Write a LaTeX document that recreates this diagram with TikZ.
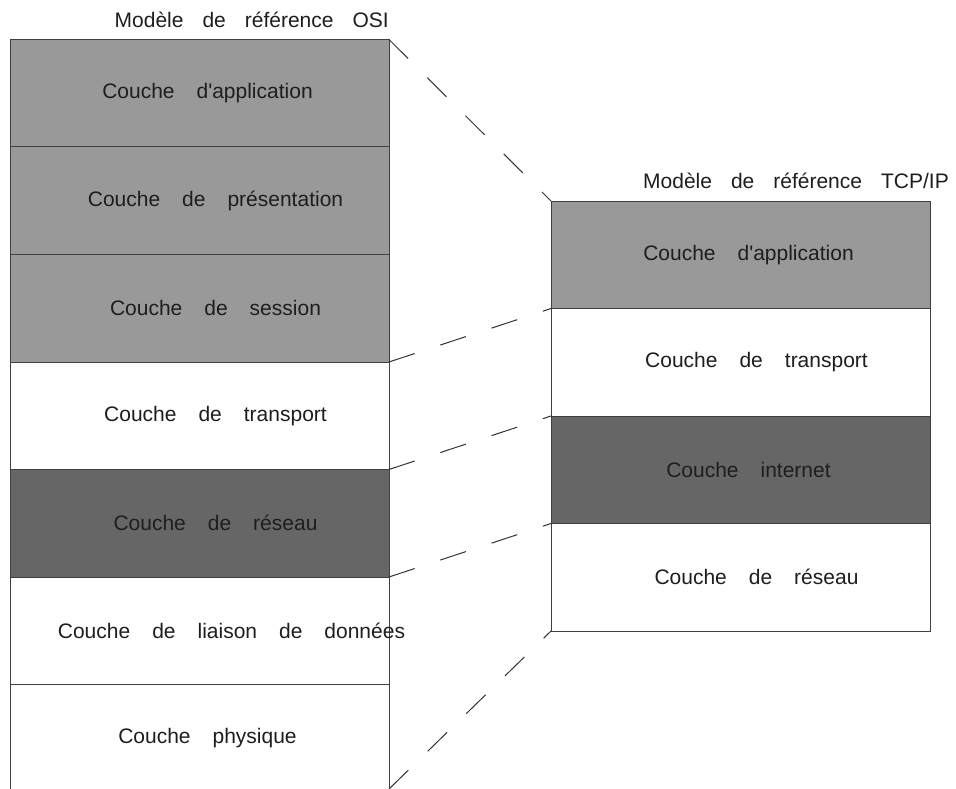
\documentclass[tikz,border=0pt]{standalone}
\usepackage{fontspec}
\setmainfont{Liberation Sans}
\usetikzlibrary{positioning}

\definecolor{layerlight}{HTML}{999999}
\definecolor{layerdark}{HTML}{666666}
\definecolor{edgegray}{HTML}{404040}
\definecolor{textgray}{HTML}{1E1E1E}

\newlength\gapshift
\setlength\gapshift{16pt}
\newcommand\layerfont{\fontsize{21}{25}\selectfont\spaceskip=22pt plus 0pt\relax}
\newcommand\titlefont{\fontsize{21}{25}\selectfont\spaceskip=19pt plus 0pt\relax}

\tikzset{
  layer/.style={draw=edgegray, line width=1pt, outer sep=0pt, inner sep=0pt,
    minimum width=379pt, minimum height=107.5pt, font=\layerfont, text=textgray,
    execute at begin node={\hspace*{#1\gapshift}}},
  layer/.default=1,
  modeltitle/.style={inner sep=0pt, font=\titlefont, text=textgray},
  link/.style={draw=black!80, line width=1pt, dash pattern=on 27pt off 27pt}
}

\begin{document}
\begin{tikzpicture}[x=1pt,y=-1pt]
\useasboundingbox (0,0) rectangle (956,789);
\clip (0,0) rectangle (956,789);

% OSI
\node[layer, fill=layerlight] (osiapp) at (199.5,93.25) {Couche d\textquotesingle application};
\node[layer=2, fill=layerlight, below=0pt of osiapp] (osipres) {Couche de présentation};
\node[layer=2, fill=layerlight, below=0pt of osipres] (osisess) {Couche de session};
\node[layer=2, fill=white, below=0pt of osisess] (ositrans) {Couche de transport};
\node[layer=2, fill=layerdark, below=0pt of ositrans] (osinet) {Couche de réseau};
% texte plus large que la case
\node[layer=0, fill=white, below=0pt of osinet] (osilink) {\makebox[0pt]{\hspace*{4\gapshift}Couche de liaison de données}};
\node[layer, fill=white, below=0pt of osilink] (osiphys) {Couche physique};
\node[modeltitle, anchor=base east] (osititle) at ([yshift=12pt]osiapp.north east) {Modèle de référence OSI};

% TCP/IP
\node[layer, fill=layerlight] (tcpapp) at (740.5,254.75) {Couche d\textquotesingle application};
\node[layer=2, fill=white, below=0pt of tcpapp] (tcptrans) {Couche de transport};
\node[layer, fill=layerdark, below=0pt of tcptrans] (tcpinet) {Couche internet};
\node[layer=2, fill=white, below=0pt of tcpinet] (tcpnet) {Couche de réseau};
\node[modeltitle, anchor=base east] (tcptitle) at ([xshift=19pt,yshift=13pt]tcpapp.north east) {Modèle de référence TCP/IP};

% correspondance
\coordinate (physend) at (osiphys.east |- 0,789);
\draw[link] (osiapp.north east) -- (tcpapp.north west);
\draw[link] (osisess.south east) -- (tcpapp.south west);
\draw[link] (ositrans.south east) -- (tcptrans.south west);
\draw[link] (osinet.south east) -- (tcpinet.south west);
\draw[link] (physend) -- (tcpnet.south west);
\end{tikzpicture}
\end{document}
